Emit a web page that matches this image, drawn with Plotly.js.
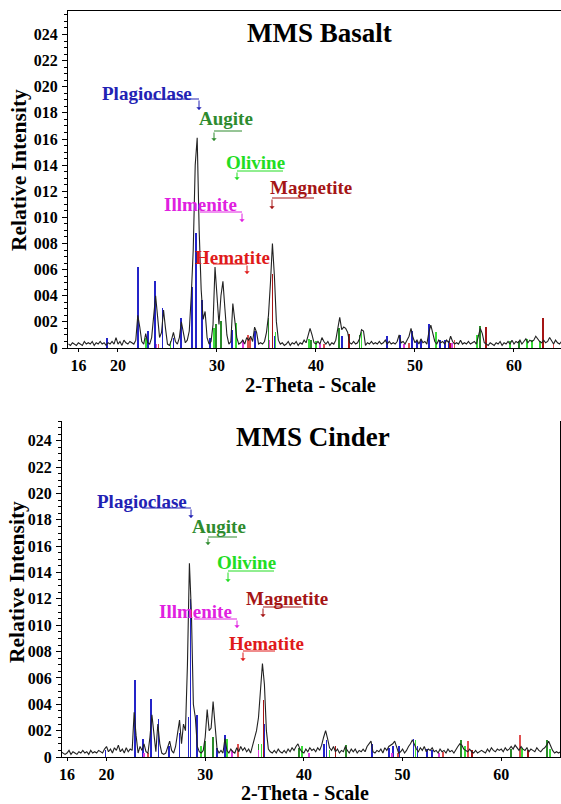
<!DOCTYPE html>
<html>
<head>
<meta charset="utf-8">
<script src="https://cdn.plot.ly/plotly-3.0.1.min.js"></script>
<style>html,body{margin:0;padding:0;background:#fff}#chart{width:561px;height:804px}</style>
</head>
<body>
<div id="chart"></div>
<script>
// ---------- DATA ----------
// Measured pattern, sampled every 0.2 deg 2-theta starting at 15.0
const scanStart = 15.0;
const scanStep = 0.2;
const basaltCounts = [
  0.3,0.2,0.4,0.3,0.2, 0.4,0.3,0.2,0.5,0.3, 0.4,0.3,0.5,0.2,0.4, 0.3,0.5,0.3,0.4,0.2,
  0.4,0.3,0.5,0.3,0.8, 0.3,0.5,0.2,0.6,0.4, 0.3,0.5,0.4,0.3,0.6, 2.5,1.6,0.5,0.3,1.1,
  0.4,0.3,0.8,2.2,4.0, 2.4,0.8,1.2,2.9,1.5, 0.3,0.2,0.6,1.2,0.5, 0.3,0.8,2.0,1.2,0.4,
  0.6,1.3,4.0,7.5,14.0, 16.1,9.0,4.5,2.2,2.8, 0.8,0.3,0.5,1.8,6.2, 3.5,1.8,4.0,5.1,3.0,
  1.0,0.3,0.5,3.4,2.2, 0.8,0.3,0.4,0.6,0.3, 0.8,0.6,0.9,0.5,1.6, 1.2,0.3,0.4,0.3,0.5,
  1.2,2.5,5.0,8.0,5.5, 2.0,0.6,0.3,0.4,0.2, 0.3,0.5,0.2,0.4,0.3, 0.5,0.2,0.4,0.3,0.6,
  0.4,0.9,1.5,1.0,0.4, 0.3,0.5,0.3,0.8,0.5, 0.3,0.5,0.2,0.4,0.3, 0.6,1.5,2.35,1.4,1.6,
  1.5,1.2,0.4,0.3,0.5, 0.3,0.4,0.7,1.4,1.3, 0.2,0.4,0.3,0.5,0.3, 0.4,0.3,0.5,0.3,0.4,
  0.6,0.3,0.5,0.3,0.4, 0.3,0.5,1.0,0.4,0.5, 0.3,0.6,0.9,1.5,0.8, 0.4,0.6,0.3,0.7,0.4,
  0.5,0.3,1.2,1.75,1.0, 0.5,0.3,0.6,0.4,0.5, 0.3,0.6,0.4,0.9,0.5, 0.3,0.4,0.3,0.6,0.3,
  0.4,0.3,0.5,0.3,0.4, 0.5,0.3,0.9,1.5,1.1, 0.4,0.3,0.2,0.4,0.3, 0.2,0.4,0.3,0.5,0.2,
  0.4,0.3,0.5,0.3,0.6, 0.3,0.5,0.4,0.6,0.3, 0.5,0.7,0.4,0.6,0.5, 0.6,0.9,0.7,0.5,0.4,
  0.6,0.4,0.5,0.8,0.5, 0.3,0.6,0.4,0.3,0.5, 0.4
];
const cinderCounts = [
  0.3,0.2,0.4,0.3,0.2, 0.3,0.5,0.2,0.4,0.3, 0.2,0.4,0.3,0.5,0.3, 0.4,0.2,0.5,0.3,0.4,
  0.3,0.5,0.4,0.3,0.6, 0.8,0.4,0.6,0.3,0.7, 0.5,0.9,0.4,0.6,0.3, 0.7,0.4,0.6,0.5,3.4,
  1.6,0.3,0.8,0.5,1.0, 0.4,0.3,1.5,3.2,2.0, 0.4,2.5,1.0,0.3,0.2, 0.3,0.8,1.2,0.5,0.3,
  0.8,2.0,2.8,1.0,2.5, 2.0,7.0,14.7,11.0,4.0, 3.0,0.8,0.4,0.3,0.5, 1.5,3.6,2.0,2.2,4.2,
  2.5,0.6,0.3,0.5,0.3, 1.4,0.5,0.3,0.6,0.4, 0.3,0.7,0.4,0.8,0.5, 0.7,0.4,0.6,0.3,0.9,
  1.3,2.0,3.0,5.0,7.1, 5.5,2.0,0.6,0.4,0.3, 0.5,0.3,0.6,0.4,0.3, 0.5,0.3,0.6,0.4,0.7,
  0.5,0.8,1.0,0.6,0.4, 0.3,0.6,0.4,0.7,0.5, 0.6,0.4,0.7,0.5,0.9, 1.5,2.0,1.4,0.7,0.5,
  0.8,0.4,0.6,0.3,0.5, 0.4,0.8,0.5,0.3,0.6, 0.4,0.6,0.3,0.5,0.4, 0.6,0.4,0.8,1.0,1.2,
  0.4,0.3,0.5,0.4,0.6, 0.3,0.7,0.5,0.8,0.9, 1.0,1.2,0.8,0.3,0.4, 0.6,0.3,0.5,0.8,1.0,
  1.3,0.9,0.6,0.4,0.7, 0.5,0.8,0.4,0.6,0.5, 0.7,0.4,0.5,0.3,0.6, 0.4,0.5,0.3,0.6,0.4,
  0.5,0.3,0.6,0.8,1.0, 0.9,0.6,0.5,0.4,0.6, 0.4,0.3,0.5,0.3,0.4, 0.5,0.4,0.3,0.6,0.4,
  0.7,0.5,0.4,0.6,0.5, 0.6,0.4,0.7,0.5,0.6, 0.8,0.6,0.9,0.7,0.5, 0.8,0.6,0.5,0.7,0.4,
  0.6,0.5,0.4,0.7,0.5, 0.4,0.6,0.7,0.9,1.2, 0.8,0.5,0.3,0.4,0.3, 0.4
];

// Reference stick patterns (2-theta position, relative height)
const minerals = ['Plagioclase','Augite','Olivine','Illmenite','Magnetite','Hematite'];

const basaltPlagPos = [18.9,22.0,23.0,23.75,24.5,25.6,26.4,27.5,27.9,28.5,29.3,31.5,33.8,35.8,42.6,47.2,48.5,49.7,50.2,50.6,51.45,52.5,53.0,53.4];
const basaltPlagH   = [0.8,6.2,1.3,5.1,3.1,0.8,2.3,4.7,8.8,3.7,0.8,1.4,1.3,0.9,0.9,0.9,1.0,1.3,0.5,0.6,1.8,0.6,0.6,0.5];
const basaltAugPos  = [29.9,30.4,35.2,39.5,42.3,44.4,56.6,60.5];
const basaltAugH    = [1.8,2.1,2.3,0.6,1.5,1.0,1.7,0.5];
const basaltOlPos   = [22.8,25.3,29.7,31.9,35.9,39.3,40.0,44.6,52.1,56.3,59.6,61.3,61.8,62.6];
const basaltOlH     = [0.8,0.5,1.5,1.9,1.2,0.7,0.5,1.2,1.2,1.0,0.5,0.7,0.6,0.5];
const basaltIlmPos  = [23.9,32.6,35.3,40.4,48.9,53.7];
const basaltIlmH    = [0.3,0.6,0.6,0.3,0.3,0.4];
const basaltMagPos  = [35.6,43.3,53.5,57.2,62.95];
const basaltMagH    = [5.7,1.1,0.4,1.6,2.3];
const basaltHemPos  = [24.1,33.1,33.3,40.8,49.4,54.0,64.0];
const basaltHemH    = [0.3,1.0,0.8,0.3,0.4,0.6,0.4];

const cinderPlagPos = [19.9,22.9,23.7,24.48,25.26,26.3,27.4,28.3,28.5,29.14,30.0,31.2,32.0,35.95,42.0,42.3,46.9,48.6,49.0,49.6,51.1,51.5,52.5,53.0];
const cinderPlagH   = [0.5,5.85,1.4,4.4,2.9,0.8,1.8,3.0,12.0,3.2,1.0,0.7,1.7,2.5,1.0,1.3,1.0,0.7,0.8,0.8,1.4,0.8,0.6,0.5];
const cinderAugPos  = [30.0,30.8,35.4,39.5,44.3,55.9,61.0,64.6];
const cinderAugH    = [1.2,1.5,1.0,0.7,0.9,1.3,0.6,1.3];
const cinderOlPos   = [29.6,32.2,35.7,39.8,42.6,51.3,56.3,62.1,64.9];
const cinderOlH     = [0.8,1.4,1.0,0.8,0.5,1.3,0.8,0.7,0.6];
const cinderIlmPos  = [23.8,32.7,35.4,40.5,48.9,53.7];
const cinderIlmH    = [0.3,0.5,0.5,0.3,0.3,0.3];
const cinderMagPos  = [35.9,43.2,57.0,62.7];
const cinderMagH    = [4.3,0.8,0.5,0.5];
const cinderHemPos  = [24.2,33.3,49.5,54.1,56.6,61.9];
const cinderHemH    = [0.3,1.0,0.3,0.4,1.2,1.7];

const yTickVals = [0,2,4,6,8,10,12,14,16,18,20,22,24];
const yTickText = ['0','002','004','006','008','010','012','014','016','018','020','022','024'];
const xTickVals = [16,20,30,40,50,60];
const xTickText = ['16','20','30','40','50','60'];

const panelTitles = ['MMS Basalt','MMS Cinder'];
const xTitle = '2-Theta - Scale';
const yTitle = 'Relative Intensity';

// ---------- STYLE ----------
const W = 561, H = 804;
const SERIF = 'Liberation Serif';
const colors = {
  Plagioclase: '#2222b4', Augite: '#2e8b2e', Olivine: '#22dd22',
  Illmenite: '#e020e0', Magnetite: '#a51515', Hematite: '#e01a1a'
};
const stickColors = {
  Plagioclase: '#2424c8', Augite: '#2a8a2a', Olivine: '#3add3a',
  Illmenite: '#e040e0', Magnetite: '#a51515', Hematite: '#e05050'
};

const traces = [];
function sticks(pos, h, name, xa, ya) {
  traces.push({type:'bar', x: pos, y: h, width: 0.18, xaxis: xa, yaxis: ya,
    marker:{color: stickColors[name], line:{width:0}}, hoverinfo:'skip', showlegend:false});
}
sticks(basaltPlagPos, basaltPlagH, 'Plagioclase', 'x', 'y');
sticks(basaltAugPos, basaltAugH, 'Augite', 'x', 'y');
sticks(basaltOlPos, basaltOlH, 'Olivine', 'x', 'y');
sticks(basaltIlmPos, basaltIlmH, 'Illmenite', 'x', 'y');
sticks(basaltMagPos, basaltMagH, 'Magnetite', 'x', 'y');
sticks(basaltHemPos, basaltHemH, 'Hematite', 'x', 'y');
sticks(cinderPlagPos, cinderPlagH, 'Plagioclase', 'x2', 'y2');
sticks(cinderAugPos, cinderAugH, 'Augite', 'x2', 'y2');
sticks(cinderOlPos, cinderOlH, 'Olivine', 'x2', 'y2');
sticks(cinderIlmPos, cinderIlmH, 'Illmenite', 'x2', 'y2');
sticks(cinderMagPos, cinderMagH, 'Magnetite', 'x2', 'y2');
sticks(cinderHemPos, cinderHemH, 'Hematite', 'x2', 'y2');

traces.push({type:'scatter', mode:'lines', x0: scanStart, dx: scanStep, y: basaltCounts,
  xaxis:'x', yaxis:'y', line:{color:'#222', width:1.1}, hoverinfo:'skip', showlegend:false});
traces.push({type:'scatter', mode:'lines', x0: scanStart, dx: scanStep, y: cinderCounts,
  xaxis:'x2', yaxis:'y2', line:{color:'#222', width:1.1}, hoverinfo:'skip', showlegend:false});

function px(x){return x/W;}
function py(y){return 1 - y/H;}

const tickFont = {family: SERIF, size: 16, color:'#000', weight:'bold'};
function yAxis(domain, range, mirror, anchor) {
  return {domain: domain, range: range, anchor: anchor, tickmode:'array', tickvals: yTickVals, ticktext: yTickText,
    ticks:'outside', ticklen:5, tickwidth:1, tickcolor:'#000', showline:true, linecolor:'#000', linewidth:1,
    mirror: mirror, showgrid:false, zeroline:false, tickfont: tickFont, ticklabelstandoff: 1,
    minor:{tickmode:'linear', tick0:0, dtick:0.5, ticks:'outside', ticklen:3, tickcolor:'#000', showgrid:false},
    fixedrange:true};
}
function xAxis(domain, range, anchor, mirror) {
  return {domain: domain, range: range, anchor: anchor, tickmode:'array', tickvals: xTickVals, ticktext: xTickText,
    ticks:'outside', ticklen:3, tickcolor:'#000', showline:true, linecolor:'#000', linewidth:1.2,
    mirror: mirror, showgrid:false, zeroline:false, tickfont: tickFont, fixedrange:true};
}

const layout = {
  width: W, height: H, margin:{l:0,r:0,t:0,b:0}, paper_bgcolor:'#fff', plot_bgcolor:'#fff',
  showlegend:false, barmode:'overlay', bargap:0,
  xaxis: xAxis([px(68), 1], [14.95, 64.75], 'y', true),
  yaxis: yAxis([py(348), py(11)], [0, 25.8], false, 'x'),
  xaxis2: xAxis([px(62), px(560)], [15.49, 65.95], 'y2', false),
  yaxis2: yAxis([py(757), py(421)], [0, 25.5], true, 'x2'),
  annotations: [], shapes: []
};

const ann = layout.annotations, shp = layout.shapes;
function text(t, x, y, size, color, angle) {
  ann.push({text:'<b>'+t+'</b>', xref:'paper', yref:'paper', x: px(x), y: py(y), xanchor:'center', yanchor:'middle',
    showarrow:false, textangle: angle || 0, font:{family:SERIF, size:size, color:color}});
}
// titles
text(panelTitles[0], 319, 33, 27, '#000');
text(panelTitles[1], 313, 437, 27, '#000');
text(xTitle, 310, 385, 20.5, '#000');
text(xTitle, 305, 793, 20, '#000');
text(yTitle, 19, 170, 21.5, '#000', -90);
text(yTitle, 17, 582, 21.5, '#000', -90);

// mineral call-outs: [name, textX, textY, lineY, lineX1, lineX2, arrowX, arrowY]
const callouts = [
  ['Plagioclase', 146.5, 93, 99, 147, 199, 199, 110],
  ['Augite', 225.5, 119, 131, 214, 242, 214, 141],
  ['Olivine', 255.5, 162, 171, 237, 283, 237, 180],
  ['Magnetite', 311, 188, 198, 272, 314, 272, 209],
  ['Illmenite', 200.5, 204, 212, 200, 242, 242, 222],
  ['Hematite', 232, 257, 264, 213, 247, 247, 274],
  ['Plagioclase', 142, 501, 508, 142, 191, 191, 518],
  ['Augite', 219.5, 526, 537, 208, 237, 208, 545],
  ['Olivine', 246, 562, 571, 228, 274, 228, 582],
  ['Magnetite', 287, 598, 607, 263, 303, 263, 617],
  ['Illmenite', 195.5, 611, 619, 194, 237, 237, 628],
  ['Hematite', 266, 643, 651, 243, 275, 243, 661]
];
callouts.forEach(c => {
  const col = colors[c[0]];
  text(c[0], c[1], c[2], 19, col);
  shp.push({type:'line', xref:'paper', yref:'paper', x0:px(c[4]), x1:px(c[5]), y0:py(c[3]), y1:py(c[3]),
    line:{color:col, width:1}});
  ann.push({text:'', xref:'paper', yref:'paper', x:px(c[6]), y:py(c[7]), ax:0, ay:-(c[7]-c[3]),
    showarrow:true, arrowhead:1, arrowsize:0.9, arrowwidth:1, arrowcolor:col});
});

Plotly.newPlot('chart', traces, layout, {staticPlot:true, displayModeBar:false});
</script>
</body>
</html>
